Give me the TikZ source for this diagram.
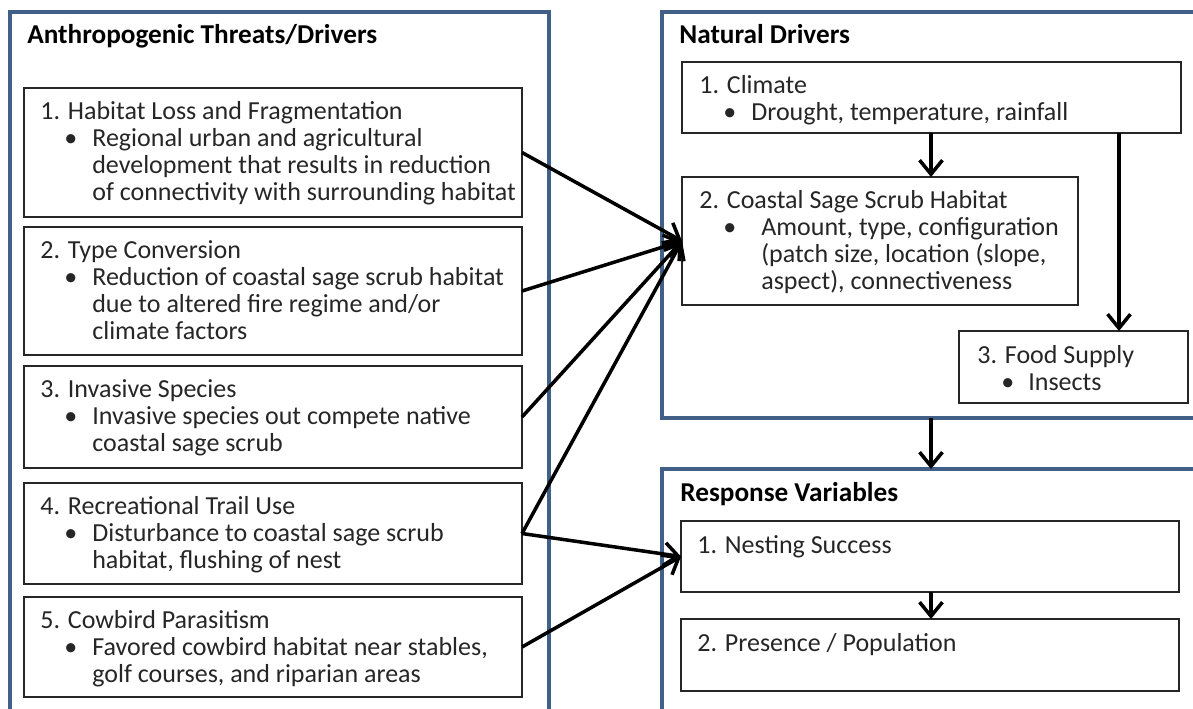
\documentclass[tikz,border=0pt]{standalone}
\usepackage{fontspec}
\setmainfont{Carlito}
\usepackage{tikz}
\usetikzlibrary{arrows.meta, fit}

\definecolor{framecol}{RGB}{64,96,135}
\definecolor{textcol}{RGB}{38,38,38}

\newcommand{\diagfont}{\fontsize{14.8pt}{15.4pt}\selectfont}
\newcommand{\titlefont}{\fontsize{15.5pt}{16pt}\selectfont\bfseries}
% bullet line and its continuation, text starts #1 from the heading
\newcommand{\bul}[2][1.04cm]{\hspace*{0.48cm}\makebox[\dimexpr#1-0.48cm\relax][l]{\textbullet}#2}
\newcommand{\cont}[2][1.04cm]{\hspace*{#1}#2}

\begin{document}
\begin{tikzpicture}[x=0.02cm, y=-0.02cm, font=\diagfont,
	box/.style={draw=black!85, line width=1.1pt, inner sep=0pt, outer sep=0pt},
	frame/.style={draw=framecol, line width=2.3pt, inner sep=0pt, outer sep=0pt},
	title/.style={anchor=base west, inner sep=0pt, font=\titlefont},
	txt/.style={anchor=north west, align=left, inner sep=0pt, text=textcol,
		execute at begin node=\strut},
	arr/.style={line width=2pt, -{Straight Barb[length=8pt, width=13pt]}}]
	
	\useasboundingbox[fill=white] (0,0) rectangle (1193,708);
	\clip (0,0) rectangle (1193,708);
	
	% the three groups
	\node[frame, fit={(10,12) (549,730)}] (anthro) {};
	\node[frame, fit={(662,12) (1215,418)}] (natural) {};
	\node[frame, fit={(662,469) (1215,730)}] (response) {};
	
	\node[title] (anthro-title) at ([shift={(17,31)}]anthro.north west) {Anthropogenic Threats/Drivers};
	\node[title] (natural-title) at ([shift={(17,31)}]natural.north west) {Natural Drivers};
	\node[title] (response-title) at ([shift={(18,32)}]response.north west) {Response Variables};
	
	% threats
	\node[box, fit={(24,88) (522,217)}] (hab) {};
	\node[box, fit={(24,227) (522,355)}] (typeconv) {};
	\node[box, fit={(24,366) (522,468)}] (invasive) {};
	\node[box, fit={(24,483) (522,584)}] (trail) {};
	\node[box, fit={(24,597) (522,697)}] (cowbird) {};
	
	\node[txt] (hab-txt) at ([shift={(16,13)}]hab.north west) {1. Habitat Loss and Fragmentation\\
		\bul{Regional urban and agricultural}\\
		\cont{development that results in reduction}\\
		\cont{of connectivity with surrounding habitat}};
	\node[txt] (typeconv-txt) at ([shift={(16,13)}]typeconv.north west) {2. Type Conversion\\
		\bul{Reduction of coastal sage scrub habitat}\\
		\cont{due to altered fire regime and/or}\\
		\cont{climate factors}};
	\node[txt] (invasive-txt) at ([shift={(16,13)}]invasive.north west) {3. Invasive Species\\
		\bul{Invasive species out compete native}\\
		\cont{coastal sage scrub}};
	\node[txt] (trail-txt) at ([shift={(16,13)}]trail.north west) {4. Recreational Trail Use\\
		\bul{Disturbance to coastal sage scrub}\\
		\cont{habitat, flushing of nest}};
	\node[txt] (cowbird-txt) at ([shift={(16,13)}]cowbird.north west) {5. Cowbird Parasitism\\
		\bul{Favored cowbird habitat near stables,}\\
		\cont{golf courses, and riparian areas}};
	
	% natural drivers
	\node[box, fit={(682,62) (1181,133)}] (climate) {};
	\node[box, fit={(682,177) (1078,305)}] (coastal) {};
	\node[box, fit={(959,331) (1188,403)}] (food) {};
	
	\node[txt] (climate-txt) at ([shift={(17,13)}]climate.north west) {1. Climate\\
		\bul[1.04cm]{Drought, temperature, rainfall}};
	\node[txt] (coastal-txt) at ([shift={(17,13)}]coastal.north west) {2. Coastal Sage Scrub Habitat\\
		\bul[1.24cm]{Amount, type, configuration}\\
		\cont[1.24cm]{(patch size, location (slope,}\\
		\cont[1.24cm]{aspect), connectiveness}};
	\node[txt] (food-txt) at ([shift={(18,14)}]food.north west) {3. Food Supply\\
		\bul[1.02cm]{Insects}};
	
	% responses
	\node[box, fit={(681,521) (1179,592)}] (nesting) {};
	\node[box, fit={(681,619) (1179,691)}] (presence) {};
	
	\node[txt] (nesting-txt) at ([shift={(16,13)}]nesting.north west) {1. Nesting Success};
	\node[txt] (presence-txt) at ([shift={(16,13)}]presence.north west) {2. Presence / Population};
	
	% connectors
	\coordinate (axis) at (931,0);
	\coordinate (foodline) at (1119,0);
	
	\foreach \src in {hab, typeconv, invasive, trail}
		\draw[arr] (\src.east) -- (coastal.west);
	\draw[arr] (trail.east) -- (nesting.west);
	\draw[arr] (cowbird.east) -- (nesting.west);
	
	\draw[arr] (axis |- climate.south) -- (axis |- coastal.north);
	\draw[arr] (foodline |- climate.south) -- (foodline |- food.north);
	\draw[arr] (axis |- natural.south) -- (axis |- response.north);
	\draw[arr] (axis |- nesting.south) -- (axis |- presence.north);
	
\end{tikzpicture}
\end{document}
